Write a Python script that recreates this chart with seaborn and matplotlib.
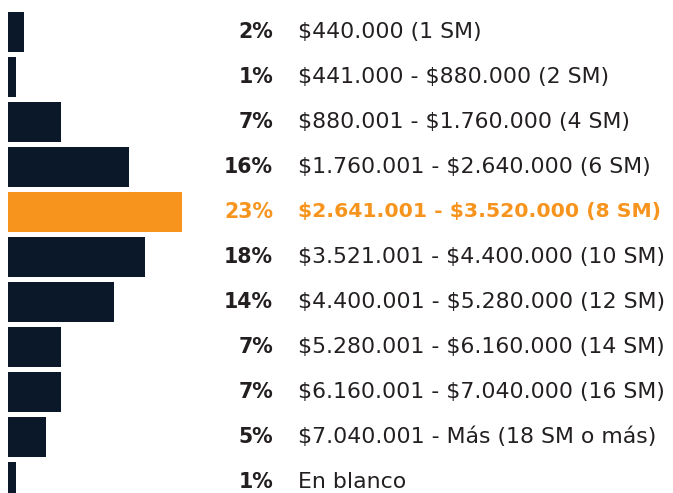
import matplotlib
matplotlib.use("Agg")
import matplotlib.pyplot as plt
import seaborn as sns

# Data
categories = [
    "$440.000 (1 SM)",
    "$441.000 - $880.000 (2 SM)",
    "$880.001 - $1.760.000 (4 SM)",
    "$1.760.001 - $2.640.000 (6 SM)",
    "$2.641.001 - $3.520.000 (8 SM)",
    "$3.521.001 - $4.400.000 (10 SM)",
    "$4.400.001 - $5.280.000 (12 SM)",
    "$5.280.001 - $6.160.000 (14 SM)",
    "$6.160.001 - $7.040.000 (16 SM)",
    "$7.040.001 - Más (18 SM o más)",
    "En blanco",
]
values = [2.1, 1.1, 7.0, 16.0, 23.0, 18.1, 14.0, 7.0, 7.0, 5.0, 1.1]
pct_labels = ["2%", "1%", "7%", "16%", "23%", "18%", "14%", "7%", "7%", "5%", "1%"]
highlight = "$2.641.001 - $3.520.000 (8 SM)"

navy = "#0b1829"
orange = "#f7941e"
text_color = "#231f20"
colors = [orange if c == highlight else navy for c in categories]

sns.set_style("white")
plt.rcParams["font.family"] = ["DejaVu Sans"]

fig = plt.figure(figsize=(6.73, 4.93), dpi=100)
ax = fig.add_axes([8 / 673, 0, 665 / 673, 1])

sns.barplot(x=values, y=categories, hue=categories, palette=colors,
            legend=False, orient="h", width=40 / 45, saturation=1,
            linewidth=0, ax=ax)

px_per_pct = 7.56
ax.set_xlim(0, 665 / px_per_pct)
ax.set_ylim((493 - 32) / 45, -32 / 45)

# label columns
x_pct = (273 - 8) / px_per_pct
x_cat = (298 - 8) / px_per_pct
for i, (cat, lab) in enumerate(zip(categories, pct_labels)):
    is_hl = cat == highlight
    col = orange if is_hl else text_color
    ax.text(x_pct, i, lab, ha="right", va="center", fontsize=14.8,
            fontweight="bold", color=col, parse_math=False)
    ax.text(x_cat, i, cat, ha="left", va="center",
            fontsize=14.7 if is_hl else 15.8,
            fontweight="bold" if is_hl else "normal", color=col,
            parse_math=False)

ax.axis("off")
fig.savefig("out.png", dpi=100)
